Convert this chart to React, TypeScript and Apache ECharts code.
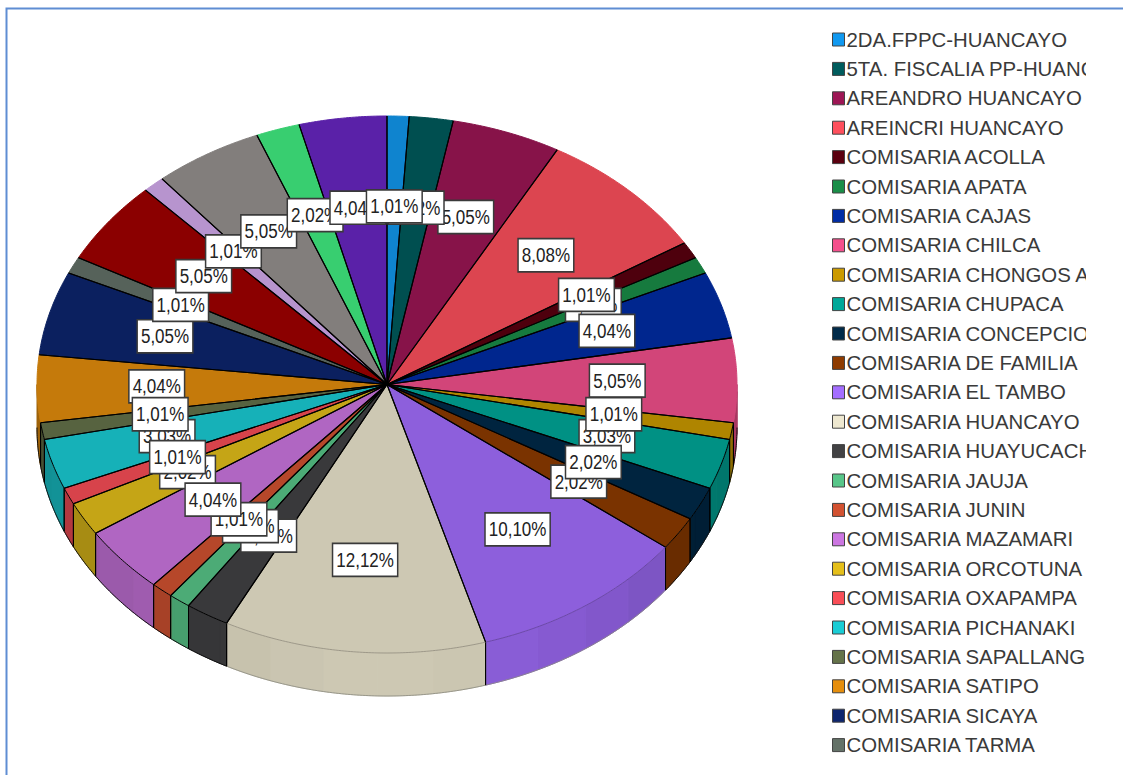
import React, { useEffect, useRef } from "react";
import * as echarts from "echarts";

const sliceNames = [
  "2DA.FPPC-HUANCAYO", "5TA. FISCALIA PP-HUANC", "AREANDRO HUANCAYO", "AREINCRI HUANCAYO",
  "COMISARIA ACOLLA", "COMISARIA APATA", "COMISARIA CAJAS", "COMISARIA CHILCA",
  "COMISARIA CHONGOS A", "COMISARIA CHUPACA", "COMISARIA CONCEPCIO", "COMISARIA DE FAMILIA",
  "COMISARIA EL TAMBO", "COMISARIA HUANCAYO", "COMISARIA HUAYUCACH", "COMISARIA JAUJA",
  "COMISARIA JUNIN", "COMISARIA MAZAMARI", "COMISARIA ORCOTUNA", "COMISARIA OXAPAMPA",
  "COMISARIA PICHANAKI", "COMISARIA SAPALLANG", "COMISARIA SATIPO", "COMISARIA SICAYA",
  "COMISARIA TARMA",
  // these five slices have their legend rows cut off in the picture
  "Sector 26", "Sector 27", "Sector 28", "Sector 29", "Sector 30",
];
const legendCount = 25;
const sliceValues = [
  1.01, 2.02, 5.05, 8.08, 1.01, 1.01, 4.04, 5.05, 1.01, 3.03,
  2.02, 2.02, 10.1, 12.12, 2.02, 1.01, 1.01, 4.04, 2.02, 1.01,
  3.03, 1.01, 4.04, 5.05, 1.01, 5.05, 1.01, 5.05, 2.02, 4.04,
];
const sliceColors = [
  "#0F84CF", "#004F50", "#871349", "#DC4550", "#4E000D", "#167A3E", "#00268E", "#D24579",
  "#AF8500", "#009184", "#00243F", "#7A3300", "#8D5FDC", "#CDC8B3", "#39393B", "#4CAB76",
  "#B6472A", "#B066C2", "#C5A516", "#D7434B", "#16B1B8", "#576340", "#C57A0B", "#0B205F",
  "#56625A", "#8B0000", "#B794CE", "#827E7C", "#38CE70", "#5A21A8",
];
// stacking of the overlapping value labels (higher is in front)
const labelLayers = [
  9, 8, 7, 1, 5, 1, 5, 1, 5, 1, 5, 1, 1, 1, 1, 2, 3, 4, 1, 5, 1, 5, 1, 1, 1, 1, 2, 3, 4, 5,
];

const CX = 387, CY = 384.5, RX = 350, RY = 268.5, DEPTH = 43;
const LABEL_RX = 0.658, LABEL_RY = 0.66, LABEL_DY = -1;
const FACET = 9, FACET_OFFSET = 1.5;

const total = sliceValues.reduce((a, b) => a + b, 0);
const starts: number[] = [];
sliceValues.reduce((acc, v, i) => {
  starts[i] = (acc / total) * 360;
  return acc + v;
}, 0);

const rad = (d: number) => (d * Math.PI) / 180;
const pt = (deg: number, dy = 0): number[] => [
  CX + RX * Math.sin(rad(deg)),
  CY - RY * Math.cos(rad(deg)) + dy,
];
const arc = (a: number, b: number, dy = 0) => {
  const out: number[][] = [];
  const n = Math.max(1, Math.ceil((b - a) / 0.5));
  for (let i = 0; i <= n; i++) out.push(pt(a + ((b - a) * i) / n, dy));
  return out;
};
const shade = (hex: string, f: number) => {
  const n = parseInt(hex.slice(1), 16);
  const c = [(n >> 16) & 255, (n >> 8) & 255, n & 255].map((v) =>
    Math.min(255, Math.round(v * f))
  );
  return `rgb(${c[0]},${c[1]},${c[2]})`;
};

function sliceItem(i: number) {
  const a = starts[i];
  const b = a + (sliceValues[i] / total) * 360;
  const color = sliceColors[i];
  const big = sliceValues[i] >= 10;
  const children: any[] = [];

  const lo = Math.max(a, 90), hi = Math.min(b, 270);
  if (lo < hi) {
    let f0 = lo;
    while (f0 < hi - 1e-6) {
      const k = Math.floor((f0 - FACET_OFFSET) / FACET + 1e-6) + 1;
      const f1 = Math.min(hi, k * FACET + FACET_OFFSET);
      const mid = (f0 + f1) / 2;
      const s = Math.sin(rad(mid));
      const fill = shade(color, 1 - 0.2 * s * s);
      children.push({
        type: "polygon",
        z2: 1,
        shape: { points: [...arc(f0, f1), ...arc(f0, f1, DEPTH).reverse()] },
        style: { fill, stroke: fill, lineWidth: 1 },
      });
      f0 = f1;
    }
    children.push({
      type: "polyline",
      z2: 2,
      shape: { points: arc(lo, hi, DEPTH) },
      style: { fill: null, stroke: big ? "#8a8a80" : "#111", lineWidth: big ? 0.8 : 1 },
    });
    [lo, hi].forEach((d) => {
      if (d !== 90 && d !== 270) {
        children.push({
          type: "polyline",
          z2: 3,
          shape: { points: [pt(d), pt(d, DEPTH)] },
          style: { fill: null, stroke: "#000", lineWidth: 1 },
        });
      }
    });
  }

  children.push({
    type: "polygon",
    z2: 4,
    shape: { points: [[CX, CY], ...arc(a, b)] },
    style: { fill: color, stroke: null },
  });
  children.push({
    type: "polyline",
    z2: 5,
    shape: { points: arc(a, b) },
    style: {
      fill: null,
      stroke: big ? shade(color, 0.7) : a + 1 > 90 && b - 1 < 270 ? "#000" : color,
      lineWidth: big ? 0.8 : 1,
    },
  });
  children.push({
    type: "polyline",
    z2: 6,
    shape: { points: [pt(a), [CX, CY], pt(b)] },
    style: { fill: null, stroke: "#000", lineWidth: 1.1 },
  });

  const m = (a + b) / 2;
  children.push({
    type: "text",
    z2: 100 + labelLayers[i],
    x: CX + RX * LABEL_RX * Math.sin(rad(m)),
    y: CY - RY * LABEL_RY * Math.cos(rad(m)) + LABEL_DY,
    scaleY: 1.16,
    style: {
      text: sliceValues[i].toFixed(2).replace(".", ",") + "%",
      fontFamily: "Liberation Sans",
      fontSize: 17,
      fill: "#222",
      align: "center",
      verticalAlign: "middle",
      backgroundColor: "#fff",
      borderColor: "#3a3a3a",
      borderWidth: 1.5,
      padding: [6, 3, 4, 3],
    },
  });
  return { type: "group", children };
}

export default function App() {
  const ref = useRef<HTMLDivElement>(null);
  useEffect(() => {
    document.body.style.margin = "0";
    const chart = echarts.init(ref.current!, null, { renderer: "svg" });
    chart.setOption({
      animation: false,
      legend: {
        orient: "vertical",
        left: 827,
        top: 24.5,
        height: 750,
        width: 285,
        selectedMode: false,
        itemWidth: 12,
        itemHeight: 13,
        itemGap: 9.4,
        icon: "rect",
        itemStyle: { borderColor: "#444", borderWidth: 1 },
        textStyle: {
          fontFamily: "Liberation Sans",
          fontSize: 20.4,
          lineHeight: 20,
          color: "#3a3a3a",
          padding: [0, 0, 0, -3],
        },
        data: sliceNames.slice(0, legendCount).map((name, i) => ({
          name,
          itemStyle: { color: shade(sliceColors[i], 1.16) },
        })),
      },
      graphic: [
        {
          type: "rect",
          z: 20,
          shape: { x: 1086, y: 20, width: 37, height: 745 },
          style: { fill: "#fff" },
        },
        {
          type: "polyline",
          z: 21,
          shape: { points: [[6.5, 775], [6.5, 8.5], [1123, 8.5]] },
          style: { fill: null, stroke: "#5F8DD3", lineWidth: 2 },
        },
      ],
      series: sliceNames.map((name, i) => ({
        type: "custom",
        name,
        coordinateSystem: "none",
        silent: true,
        itemStyle: { color: sliceColors[i] },
        data: [[sliceValues[i]]],
        renderItem: () => sliceItem(i),
      })),
    });
    return () => chart.dispose();
  }, []);
  return <div ref={ref} style={{ width: 1123, height: 775, overflow: "hidden" }} />;
}
